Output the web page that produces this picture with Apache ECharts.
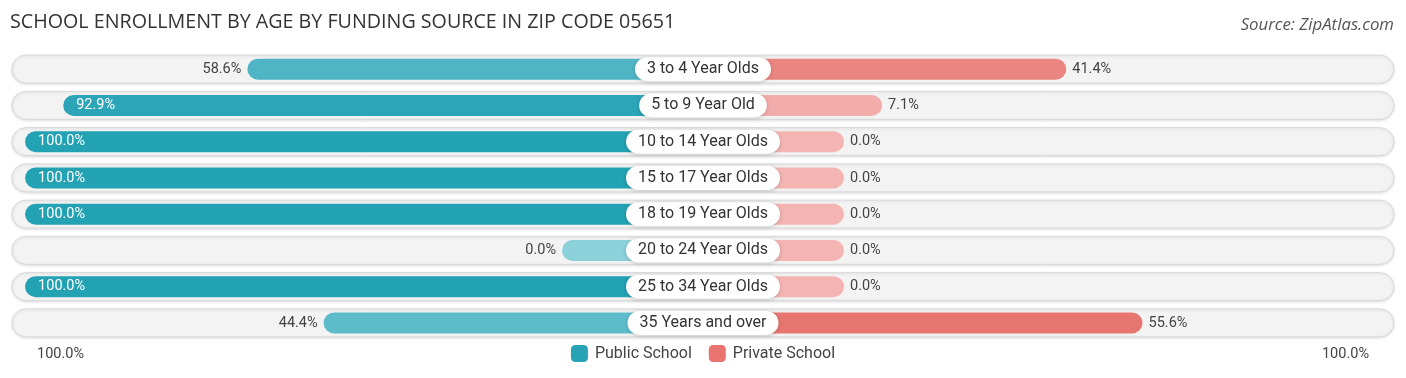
<!DOCTYPE html>
<html>
<head>
<meta charset="utf-8">
<script src="https://cdn.jsdelivr.net/npm/echarts@6/dist/echarts.min.js"></script>
<style>
html,body{margin:0;padding:0;background:#fff;}
#chart{width:1406px;height:378px;}
</style>
</head>
<body>
<div id="chart"></div>
<script>
const categories = ["3 to 4 Year Olds","5 to 9 Year Old","10 to 14 Year Olds","15 to 17 Year Olds","18 to 19 Year Olds","20 to 24 Year Olds","25 to 34 Year Olds","35 Years and over"];
const publicSchool = [58.6, 92.9, 100.0, 100.0, 100.0, 0.0, 100.0, 44.4];
const privateSchool = [41.4, 7.1, 0.0, 0.0, 0.0, 0.0, 0.0, 55.6];
const seriesNames = ["Public School", "Private School"];
const edgeLabels = ["100.0%", "100.0%"];

const STUB = 26.26;      // minimal bar length (hidden under label box)
const BG = 128.7;        // background pill half-extent
const FONT = 'Roboto, "Noto Sans", sans-serif';

function mix(a, b, t) {
  const c = a.map((x, i) => Math.round(x + (b[i] - x) * t));
  return 'rgb(' + c.join(',') + ')';
}
const pubColor = v => mix([141,209,219],[35,162,180], v/100);
const privColor = v => mix([243,180,178],[222,66,60], v/100);

function labelCfg(v, side) {
  const inside = v >= 80;
  return {
    show: true,
    position: inside ? (side === 'l' ? 'insideLeft' : 'insideRight') : (side === 'l' ? 'left' : 'right'),
    distance: inside ? 13 : 6,
    color: inside ? '#ffffff' : '#444444',
    fontSize: 14.5,
    fontFamily: FONT,
    formatter: v.toFixed(1) + '%'
  };
}

const chart = echarts.init(document.getElementById('chart'), null, {renderer: 'canvas'});
const option = {
  animation: false,
  title: [{
    text: 'SCHOOL ENROLLMENT BY AGE BY FUNDING SOURCE IN ZIP CODE 05651',
    left: 5, top: 7,
    textStyle: {fontSize: 19.7, fontWeight: 400, color: '#333', fontFamily: '"Open Sans", sans-serif'}
  }, {
    text: 'Source: ZipAtlas.com',
    right: 7, top: 12,
    textStyle: {fontSize: 16.8, fontWeight: 400, fontStyle: 'italic', color: '#555', fontFamily: '"Open Sans", sans-serif'}
  }],
  legend: {
    bottom: 11,
    left: 'center',
    itemWidth: 17, itemHeight: 17, itemGap: 17,
    icon: 'roundRect',
    textStyle: {fontSize: 16, color: '#444', fontFamily: FONT, padding: [0, 0, 0, 2]},
    data: [
      {name: seriesNames[0], itemStyle: {color: '#27a3b5'}},
      {name: seriesNames[1], itemStyle: {color: '#e8736f'}}
    ]
  },
  graphic: [
    {type: 'text', left: 37, top: 347, style: {text: edgeLabels[0], fontSize: 14.5, fill: '#444', fontFamily: FONT}},
    {type: 'text', right: 37, top: 347, style: {text: edgeLabels[1], fontSize: 14.5, fill: '#444', fontFamily: FONT}}
  ],
  grid: {left: 12, right: 12, top: 51, height: 290, containLabel: false},
  xAxis: {type: 'value', min: -BG, max: BG, show: false},
  yAxis: {type: 'category', data: categories, inverse: true, show: false},
  series: [
    {
      type: 'custom',
      name: 'bg',
      z: 1,
      silent: true,
      data: categories.map((c, i) => [0, i]),
      renderItem: function (params, api) {
        const i = api.value(1);
        const p0 = api.coord([-BG, i]);
        const p1 = api.coord([BG, i]);
        const h = 28;
        return {
          type: 'rect',
          shape: {x: p0[0], y: p0[1] - h/2, width: p1[0] - p0[0], height: h, r: h/2},
          style: {fill: '#f3f3f3', stroke: '#d9d9d9', lineWidth: 1, shadowBlur: 3, shadowColor: 'rgba(0,0,0,0.12)', shadowOffsetY: 1}
        };
      }
    },
    {
      type: 'bar',
      name: seriesNames[0],
      stack: 'total',
      z: 3,
      barWidth: 21,
      itemStyle: {borderRadius: 10.5, color: '#27a3b5'},
      data: publicSchool.map(v => ({
        value: -(STUB + v),
        itemStyle: {color: pubColor(v)},
        label: labelCfg(v, 'l')
      }))
    },
    {
      type: 'bar',
      name: seriesNames[1],
      stack: 'total',
      z: 3,
      barWidth: 21,
      itemStyle: {borderRadius: 10.5, color: '#e8736f'},
      data: privateSchool.map(v => ({
        value: STUB + v,
        itemStyle: {color: privColor(v)},
        label: labelCfg(v, 'r')
      }))
    },
    {
      type: 'custom',
      name: 'cat',
      z: 10,
      silent: true,
      data: categories.map((c, i) => [0, i]),
      renderItem: function (params, api) {
        const i = api.value(1);
        const p = api.coord([0, i]);
        return {
          type: 'text',
          x: p[0], y: p[1],
          style: {
            text: categories[i],
            align: 'center', verticalAlign: 'middle',
            fontSize: 16, lineHeight: 16, fontFamily: FONT, fill: '#333',
            backgroundColor: '#ffffff',
            padding: [4, 12],
            borderRadius: 12,
            shadowBlur: 4, shadowColor: 'rgba(0,0,0,0.18)', shadowOffsetY: 1
          }
        };
      }
    }
  ]
};
chart.setOption(option);
</script>
</body>
</html>
